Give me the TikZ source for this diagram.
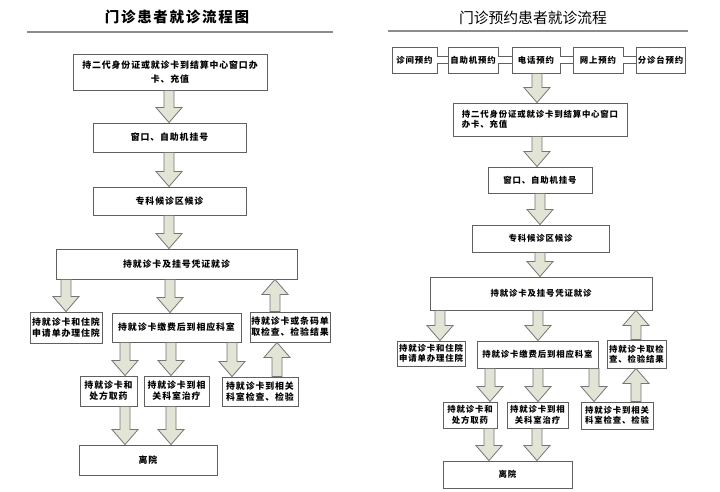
\documentclass[tikz,border=0pt]{standalone}
\usepackage{fontspec}
\usetikzlibrary{calc,shadows}
\newfontfamily\cjk[LetterSpace=10]{Noto Sans CJK SC}
\newfontfamily\cjktitle[LetterSpace=12]{Noto Sans CJK SC}
\newfontfamily\cjkplain{Noto Sans CJK SC}
\definecolor{boxline}{HTML}{606060}
\definecolor{arrowfill}{HTML}{E2E4D6}
\definecolor{arrowline}{HTML}{767676}
\definecolor{rulecol}{HTML}{8C8C8C}
\tikzset{
 box/.style={draw=boxline, line width=0.9pt, fill=white, inner sep=0pt, align=center,
   font=\cjk\bfseries\fontsize{8.9}{11}\selectfont,
   drop shadow={shadow xshift=0.8pt, shadow yshift=-0.8pt, fill=black!35, opacity=0.5}},
 boxR/.style={box, font=\cjk\bfseries\fontsize{8.4}{10.5}\selectfont},
 barrow/.style={draw=arrowline, line width=0.8pt, fill=arrowfill, line join=miter},
 rulestyle/.style={draw=rulecol, line width=1.3pt},
 dbl/.style={draw=boxline, double=white, double distance=6pt, line width=0.8pt},
}
\newcommand\bx[7][box]{\node[#1, minimum width={(#5-#3)*1pt}, minimum height={(#6-#4)*1pt}] (#2) at ({(#3+#5)/2},{(#4+#6)/2}) {#7};}
\newcommand\blockarrow[3]{%
 \draw[barrow] let \p1=(#2), \p2=(#3), \n1={(\y1-\y2)/abs(\y1-\y2)*15} in
 ({#1pt-5pt},\y1) -- ({#1pt-5pt},{\y2+\n1*1pt}) -- ({#1pt-13pt},{\y2+\n1*1pt}) -- ({#1pt},\y2)
 -- ({#1pt+13pt},{\y2+\n1*1pt}) -- ({#1pt+5pt},{\y2+\n1*1pt}) -- ({#1pt+5pt},\y1) -- cycle;}
\begin{document}
\begin{tikzpicture}[x=1pt,y=-1pt]
\fill[white] (0,0) rectangle (720,492);
\useasboundingbox (0,0) rectangle (720,492);
% ---------- left panel ----------
\node[font=\cjktitle\bfseries\fontsize{14.5}{16}\selectfont] (tL) at (177,17) {门诊患者就诊流程图};
\coordinate (lrA) at (27,32); \coordinate (lrB) at (333,32);
\draw[rulestyle] (lrA) -- (lrB);
\bx{b1}{73}{54}{267}{90}{持二代身份证或就诊卡到结算中心窗口办\\[3pt]卡、充值}
\bx{b2}{93}{123}{246}{152}{窗口、自助机挂号}
\bx{b3}{93}{187}{246}{215}{专科候诊区候诊}
\bx{b4}{56}{249}{297}{279}{持就诊卡及挂号凭证就诊}
\bx{b5}{30}{312}{102}{343}{持就诊卡和住院\\申请单办理住院}
\bx{b6}{112}{313}{241}{342}{持就诊卡缴费后到相应科室}
\bx{b7}{250}{312}{330}{342}{持就诊卡或条码单\\取检查、检验结果}
\bx{b8}{80}{376}{137}{406}{持就诊卡和\\处方取药}
\bx{b9}{144}{376}{209}{406}{持就诊卡到相\\关科室治疗}
\bx{b10}{222}{377}{298}{406}{持就诊卡到相关\\科室检查、检验}
\bx{b11}{79}{445}{217}{475}{离院}
\blockarrow{169}{b1.south}{b2.north}
\blockarrow{169}{b2.south}{b3.north}
\blockarrow{169}{b3.south}{b4.north}
\blockarrow{66}{b4.south}{b5.north}
\blockarrow{170}{b4.south}{b6.north}
\blockarrow{275}{b7.north}{b4.south}
\blockarrow{125}{b6.south}{b8.north}
\blockarrow{171}{b6.south}{b9.north}
\blockarrow{232}{b6.south}{b10.north}
\blockarrow{277}{b10.north}{b7.south}
\blockarrow{125}{b8.south}{b11.north}
\blockarrow{171}{b9.south}{b11.north}
% ---------- right panel ----------
\node[font=\cjkplain\fontsize{14.8}{16}\selectfont] (tR) at (533,18) {门诊预约患者就诊流程};
\coordinate (rrA) at (388,31); \coordinate (rrB) at (688,31);
\draw[rulestyle] (rrA) -- (rrB);
\bx[boxR]{rb1}{392}{47}{437}{73}{诊间预约}
\bx[boxR]{rb2}{448}{47}{498}{73}{自助机预约}
\bx[boxR]{rb3}{512}{47}{560}{73}{电话预约}
\bx[boxR]{rb4}{573}{47}{623}{73}{网上预约}
\bx[boxR]{rb5}{636}{47}{685}{73}{分诊台预约}
\draw[dbl] (rb1) -- (rb2);
\draw[dbl] (rb2) -- (rb3);
\draw[dbl] (rb3) -- (rb4);
\draw[dbl] (rb4) -- (rb5);
\bx[boxR,align=left]{r1}{453}{103}{627}{136}{持二代身份证或就诊卡到结算中心窗口\\办卡、充值}
\bx[boxR]{r2}{488}{167}{592}{193}{窗口、自助机挂号}
\bx[boxR]{r3}{472}{225}{609}{252}{专科候诊区候诊}
\bx[boxR]{r4}{430}{277}{652}{310}{持就诊卡及挂号凭证就诊}
\bx[boxR]{r5}{397}{341}{465}{366}{持就诊卡和住院\\申请单办理住院}
\bx[boxR]{r6}{477}{341}{598}{368}{持就诊卡缴费后到相应科室}
\bx[boxR]{r7}{607}{340}{666}{368}{持就诊卡取检\\查、检验结果}
\bx[boxR]{r8}{443}{402}{497}{428}{持就诊卡和\\处方取药}
\bx[boxR]{r9}{507}{402}{568}{428}{持就诊卡到相\\关科室治疗}
\bx[boxR]{r10}{581}{402}{653}{429}{持就诊卡到相关\\科室检查、检验}
\bx[boxR]{r11}{443}{461}{572}{488}{离院}
\blockarrow{537}{rb3.south}{r1.north}
\blockarrow{537}{r1.south}{r2.north}
\blockarrow{540}{r2.south}{r3.north}
\blockarrow{540}{r3.south}{r4.north}
\blockarrow{440}{r4.south}{r5.north}
\blockarrow{538}{r4.south}{r6.north}
\blockarrow{636}{r7.north}{r4.south}
\blockarrow{490}{r6.south}{r8.north}
\blockarrow{538}{r6.south}{r9.north}
\blockarrow{594}{r6.south}{r10.north}
\blockarrow{636}{r10.north}{r7.south}
\blockarrow{489}{r8.south}{r11.north}
\blockarrow{537}{r9.south}{r11.north}
\end{tikzpicture}
\end{document}
